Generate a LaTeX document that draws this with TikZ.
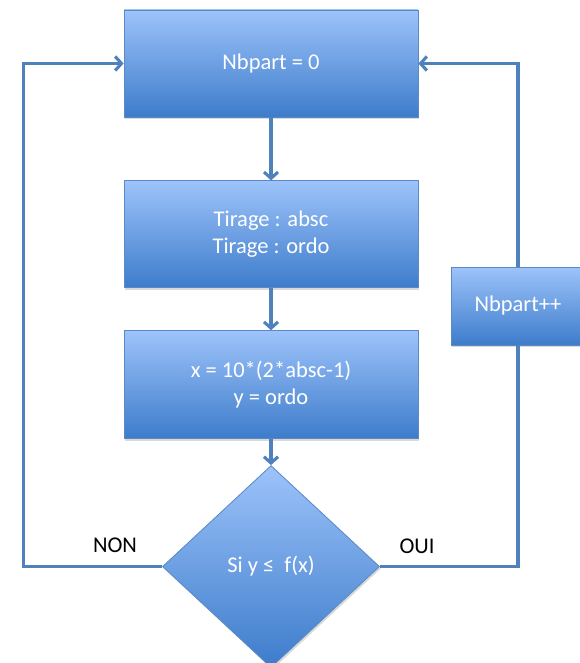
\documentclass[tikz,border=0pt]{standalone}
\usepackage{fontspec}
\setmainfont{Carlito}
\usepackage{tikz}
\usetikzlibrary{shadows}
\usetikzlibrary{shapes, calc, arrows.meta, positioning}
\definecolor{bleuhaut}{HTML}{9DC3FA}
\definecolor{bleubas}{HTML}{3D7CCB}
\definecolor{bord}{HTML}{5A8AC6}
\definecolor{trait}{HTML}{4F81BD}
\tikzset{
    node distance =1.1 cm and 1.1 cm,% distance between the blocks
    boite/.style ={rectangle, draw=bord, line width=0.6pt, top color=bleuhaut, bottom color=bleubas, text=white, align=center, font=\fontsize{16}{19.5}\selectfont, drop shadow={shadow xshift=1pt, shadow yshift=-1.5pt, opacity=0.3}}, % the blue blocks
    test/.style = {diamond, draw=bord, line width=0.6pt, top color=bleuhaut, bottom color=bleubas, text=white, inner sep=0pt, minimum width=5.425cm, minimum height=5.05cm, font=\fontsize{16}{19.5}\selectfont, drop shadow={shadow xshift=1pt, shadow yshift=-1.5pt, opacity=0.3}},
    etiq/.style = {font=\fontsize{16}{19.5}\selectfont, text=black},
    ligne/.style = {draw=trait, line width=2.2pt},
    fleche/.style = {ligne, -{Straight Barb[length=4.5pt, width=10pt]}}
}
\begin{document}
\begin{tikzpicture}
    \useasboundingbox (0,0) rectangle (14.5,-16.575);
    \node [boite, minimum width=7.35cm, minimum height=2.675cm] (nb0) at (6.775,-1.5875) {Nbpart = 0};
    \node [boite, minimum width=7.35cm, minimum height=2.675cm, below=1.575cm of nb0] (tir) {Tirage : absc\\Tirage : ordo};
    \node [boite, minimum width=7.35cm, minimum height=2.7cm, below=1.05cm of tir] (calc) {x = 10*(2*absc-1)\\y = ordo};
    \node [test, below=0.65cm of calc] (si) {Si y ≤\ \ f(x)};
    \node [boite, minimum width=3.35cm, minimum height=1.95cm] (inc) at (12.95,-7.65) {Nbpart++};
    \coordinate (gauche) at (0.59,0);
    % main flow
    \draw [fleche] (nb0) -- (tir);
    \draw [fleche] (tir) -- (calc);
    \draw [fleche] (calc) -- (si);
    % loops
    \draw [fleche] (si.west) -- (si.west -| gauche) |- (nb0.west);
    \draw [ligne] (si.east) -| (inc.south);
    \draw [fleche] (inc.north) |- (nb0.east);
    \node [etiq] (non) at (2.875,-13.63) {NON};
    \node [etiq] (oui) at (10.425,-13.65) {OUI};
\end{tikzpicture}
\end{document}
